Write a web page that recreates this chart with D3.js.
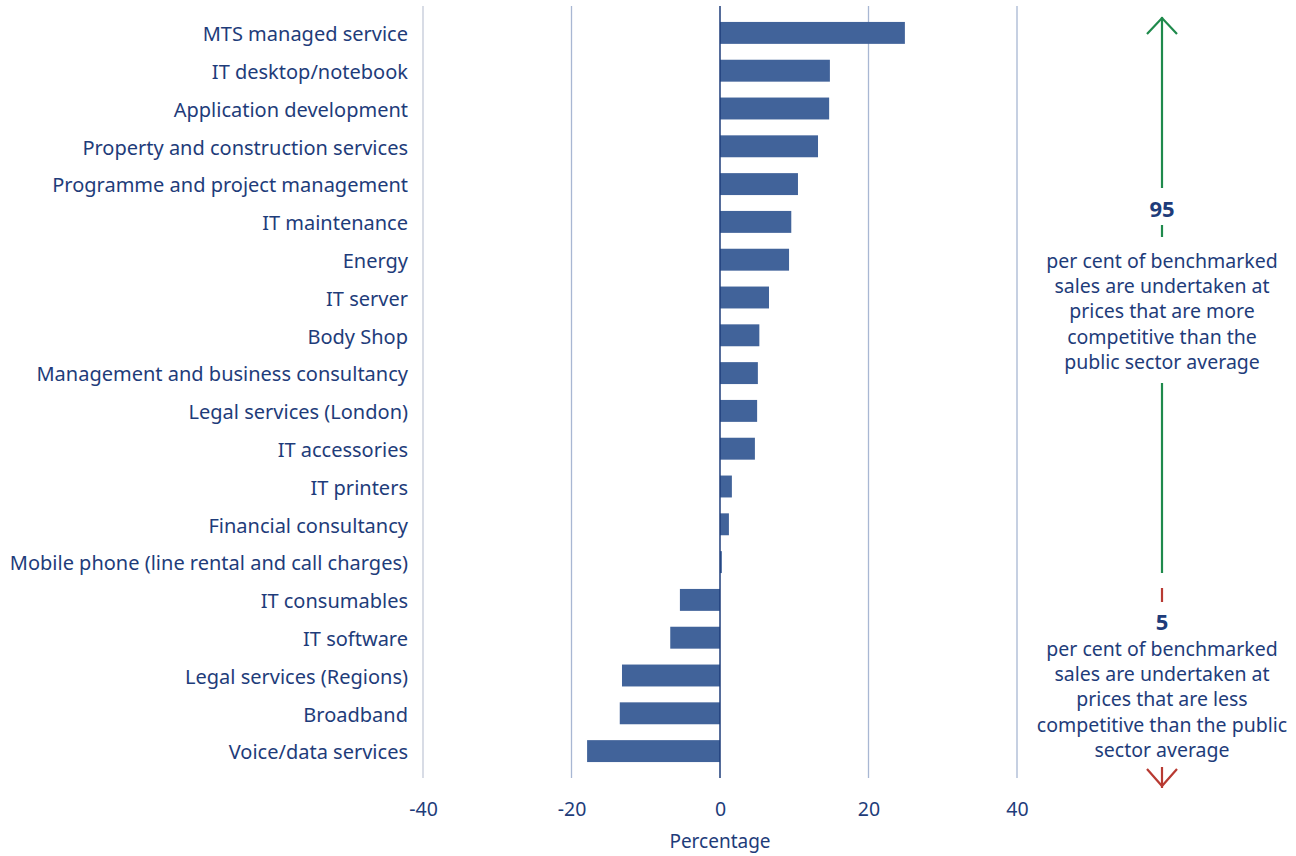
<!DOCTYPE html>
<html><head><meta charset="utf-8">
<script src="https://cdn.jsdelivr.net/npm/d3@7"></script>
<style>
body{margin:0;background:#fff;}
text{font-family:"Noto Sans", Lato, sans-serif;}
</style></head>
<body><svg id="c" width="1296" height="856"></svg>
<script>
const categories = ["MTS managed service","IT desktop/notebook","Application development","Property and construction services","Programme and project management","IT maintenance","Energy","IT server","Body Shop","Management and business consultancy","Legal services (London)","IT accessories","IT printers","Financial consultancy","Mobile phone (line rental and call charges)","IT consumables","IT software","Legal services (Regions)","Broadband","Voice/data services"];
const values = [24.9,14.8,14.7,13.2,10.5,9.6,9.3,6.6,5.3,5.1,5.0,4.7,1.6,1.2,0.25,-5.4,-6.7,-13.2,-13.5,-17.9];
const xTicks = [-40,-20,0,20,40];
const xTitle = "Percentage";
const upperPct = "95";
const upperText = ["per cent of benchmarked","sales are undertaken at","prices that are more","competitive than the","public sector average"];
const lowerPct = "5";
const lowerText = ["per cent of benchmarked","sales are undertaken at","prices that are less","competitive than the public","sector average"];

const navy = "#1e3c7a", barC = "#41639a", gridC = "#a8b7d3", green = "#1f8a4c", red = "#b83a32";
const FS = "20px", FA = "19.5px";
const svg = d3.select("#c");
const x = d3.scaleLinear().domain([-40,40]).range([423,1017]);
const y = d3.scaleBand().domain(categories).range([14,770]).paddingInner(0.42).paddingOuter(0.21);

// grid
svg.append("g").selectAll("line").data(xTicks.filter(d=>d!==0)).join("line")
  .attr("x1",d=>x(d)).attr("x2",d=>x(d)).attr("y1",6).attr("y2",778)
  .attr("stroke",d=>d===-40?"#c3cad8":gridC).attr("stroke-width",1.3);

// bars
svg.append("g").selectAll("rect").data(values).join("rect")
  .attr("x",d=>x(Math.min(0,d))).attr("width",d=>Math.abs(x(d)-x(0)))
  .attr("y",(d,i)=>y(categories[i])).attr("height",y.bandwidth()).attr("fill",barC);

// zero line
svg.append("line").attr("x1",x(0)).attr("x2",x(0)).attr("y1",6).attr("y2",778).attr("stroke",navy).attr("stroke-width",1.5);

// category labels
const yAxis = d3.axisLeft(y).tickSize(0).tickPadding(0);
const gy = svg.append("g").attr("transform",`translate(408,1)`).call(yAxis);
gy.select(".domain").remove();
gy.selectAll("text").attr("fill",navy).style("font-size",FS).attr("dy","0.36em");

// x axis
const xAxis = d3.axisBottom(x).tickValues(xTicks).tickFormat(d=>String(d)).tickSize(0).tickPadding(0);
const gx = svg.append("g").attr("transform","translate(0,809)").call(xAxis);
gx.select(".domain").remove();
gx.selectAll("text").attr("fill",navy).style("font-size","19.5px").attr("dy","0.36em");
svg.append("text").attr("x",x(0)).attr("y",841).attr("text-anchor","middle").attr("dy","0.36em")
  .attr("fill",navy).style("font-size","19px").text(xTitle);

// annotation
const ax = 1162;
const seg = (y1,y2,c)=>svg.append("line").attr("x1",ax).attr("x2",ax).attr("y1",y1).attr("y2",y2).attr("stroke",c).attr("stroke-width",2.2);
seg(17,188,green); seg(225,237,green); seg(383,573,green); seg(588,602,red); seg(767,788,red);
svg.append("path").attr("d",`M${ax-15},34 L${ax},18 L${ax+15},34`).attr("fill","none").attr("stroke",green).attr("stroke-width",2.2);
svg.append("path").attr("d",`M${ax-15},769 L${ax},786 L${ax+15},769`).attr("fill","none").attr("stroke",red).attr("stroke-width",2.2);

svg.append("text").attr("x",ax).attr("y",209).attr("dy","0.36em").attr("text-anchor","middle")
  .attr("fill",navy).style("font-size","22px").style("font-weight","bold").text(upperPct);
svg.append("g").selectAll("text").data(upperText).join("text")
  .attr("x",ax).attr("y",(d,i)=>261+i*25.2).attr("dy","0.36em").attr("text-anchor","middle")
  .attr("fill",navy).style("font-size",FA).text(d=>d);
svg.append("text").attr("x",ax).attr("y",622).attr("dy","0.36em").attr("text-anchor","middle")
  .attr("fill",navy).style("font-size","22px").style("font-weight","bold").text(lowerPct);
svg.append("g").selectAll("text").data(lowerText).join("text")
  .attr("x",ax).attr("y",(d,i)=>649+i*25.2).attr("dy","0.36em").attr("text-anchor","middle")
  .attr("fill",navy).style("font-size",FA).text(d=>d);
</script></body></html>
